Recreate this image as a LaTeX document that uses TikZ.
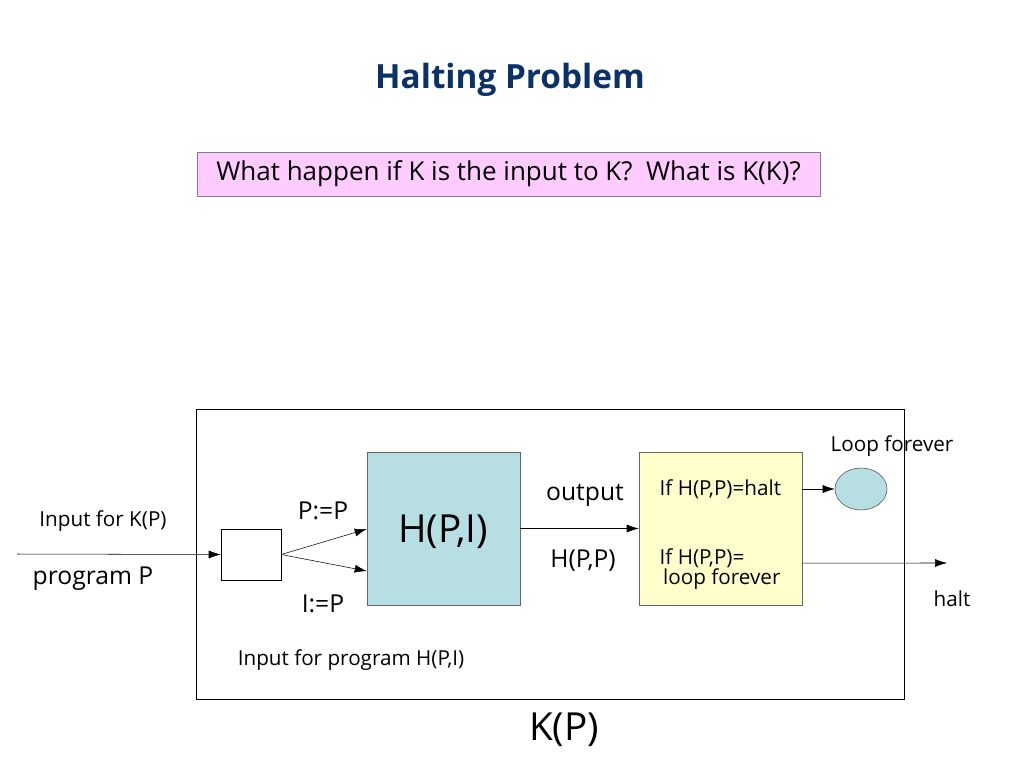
\documentclass[tikz,border=0pt]{standalone}
\usepackage{fontspec}
\setmainfont{Open Sans}
\usetikzlibrary{arrows.meta}
\usetikzlibrary{shapes.geometric}
\usetikzlibrary{calc}
\definecolor{titleblue}{RGB}{10,50,105}
\definecolor{qpink}{RGB}{255,204,255}
\definecolor{hblue}{RGB}{183,222,226}
\definecolor{ifyellow}{RGB}{255,255,204}

\begin{document}
\begin{tikzpicture}[x=0.75pt, y=-0.75pt,
    arr/.style={-{Latex[length=9pt,width=6pt]}},
    small/.style={font=\fontsize{15.5}{17}\selectfont},
    mid/.style={font=\fontsize{18.5}{21}\selectfont},
    big/.style={font=\fontsize{29}{32}\selectfont}]
        \useasboundingbox (0,0) rectangle (1024,768);
        % title and question
        \node[font=\fontsize{25}{28}\selectfont\bfseries, text=titleblue] (title) at (510,80) {Halting Problem};
        \node[draw=gray, fill=qpink, minimum width=467.25pt, minimum height=33pt, font=\fontsize{19.5}{22}\selectfont] (question) at (508.5,174) {What happen if K is the input to K?~~What is K(K)?};
        % machine K
        \draw[black] (196,409) rectangle (904,699);
        \node[draw, minimum width=45pt, minimum height=38.25pt] (split) at (251,554.5) {};
        \node[draw=gray!80!black, fill=hblue, minimum width=114.75pt, minimum height=114.75pt] (H) at (443.5,528.5) {};
        \node[big] (Hlabel) at (443,532) {H(P,I)};
        \node[draw=gray!80!black, fill=ifyellow, minimum width=122.25pt, minimum height=114.75pt] (decide) at (720.5,528.5) {};
        \node[draw=black!70, fill=hblue, ellipse, minimum width=39pt, minimum height=31.5pt] (loop) at (861,489) {};
        \coordinate (start) at (17,554);
        \coordinate (end) at (947,563);
        % connectors
        \draw[arr] (start) -- (split.west);
        \draw[arr] (split.east) -- ([yshift=-0.4pt]H.west);
        \draw[arr] (split.east) -- ([yshift=-31.9pt]H.west);
        \draw[arr] (H.east) -- (decide.west);
        \draw[arr] (loop.west -| decide.east) -- (loop.west);
        \draw[arr] ([yshift=-25.9pt]decide.east) -- (end);
        % labels
        \node[small] (inK) at (103,521) {Input for K(P)};
        \node[mid] (prog) at (93,579) {program P};
        \node[mid] (pp) at (323,511) {P:=P};
        \node[mid] (ip) at (323,604) {I:=P};
        \node[small] (inH) at (351,660) {Input for program H(P,I)};
        \node[mid] (out) at (585,495) {output};
        \node[mid] (hpp) at (583,561) {H(P,P)};
        \node[small, anchor=west] (ifhalt) at (655,489) {If H(P,P)=halt};
        \node[small, align=left, anchor=west] (ifloop) at (655,569) {If H(P,P)=\\[-2pt] \,loop forever};
        \node[small] (looplbl) at (892,446) {Loop forever};
        \node[small] (halt) at (952,599) {halt};
        \node[big] (KP) at (564,730) {K(P)};
    \end{tikzpicture}
\end{document}
